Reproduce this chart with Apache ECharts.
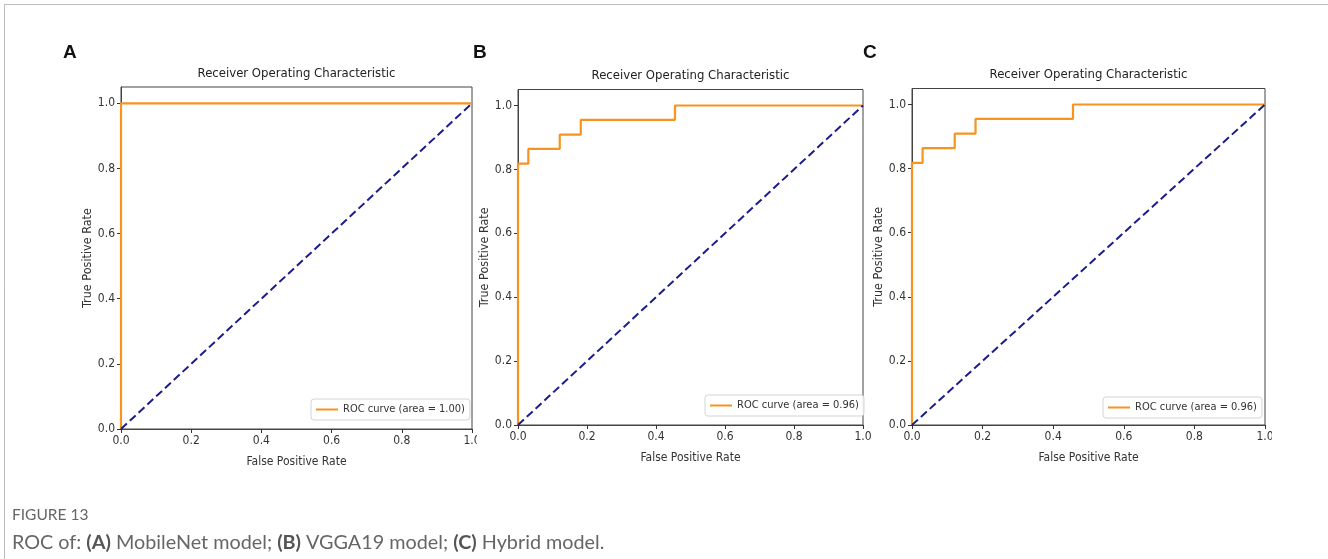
<!DOCTYPE html>
<html>
<head>
<meta charset="utf-8">
<script src="https://cdn.jsdelivr.net/npm/echarts@6/dist/echarts.min.js"></script>
<style>
html,body{margin:0;padding:0;background:#fff;}
#chart{width:1328px;height:559px;}
</style>
</head>
<body>
<div id="chart"></div>
<script>
// ---- data ----
const panelLabels = ['A', 'B', 'C'];
const chartTitle = 'Receiver Operating Characteristic';
const xName = 'False Positive Rate';
const yName = 'True Positive Rate';
const tickValues = [0, 0.2, 0.4, 0.6, 0.8, 1.0];

const rocNameA = 'ROC curve (area = 1.00)';
const fprA = [0, 0, 1];
const tprA = [0, 1, 1];

const rocNameB = 'ROC curve (area = 0.96)';
const fprB = [0, 0, 0.03, 0.03, 0.121, 0.121, 0.182, 0.182, 0.455, 0.455, 1];
const tprB = [0, 0.818, 0.818, 0.864, 0.864, 0.909, 0.909, 0.955, 0.955, 1, 1];

const rocNameC = 'ROC curve (area = 0.96)';
const fprC = [0, 0, 0.03, 0.03, 0.121, 0.121, 0.18, 0.18, 0.456, 0.456, 1];
const tprC = [0, 0.818, 0.818, 0.864, 0.864, 0.909, 0.909, 0.955, 0.955, 1, 1];

const diagX = [0, 1];
const diagY = [0, 1];

const captionHead = 'FIGURE 13';

// ---- styling / layout ----
const FONT = "'Liberation Sans Narrow', 'DejaVu Sans Condensed', 'Liberation Sans', sans-serif";
const ORANGE = '#f7931e';
const NAVY = '#1c1c8e';
const FRAME = '#444';

const grids = [
  {left: 121, top: 87, width: 351, height: 342},
  {left: 518, top: 89.5, width: 345, height: 335.5},
  {left: 912, top: 88.5, width: 353, height: 336.5}
];
const panels = [
  {name: rocNameA, fpr: fprA, tpr: tprA, legend: {left: 311, top: 399}, labelPos: [63, 43]},
  {name: rocNameB, fpr: fprB, tpr: tprB, legend: {left: 705, top: 395}, labelPos: [473, 43]},
  {name: rocNameC, fpr: fprC, tpr: tprC, legend: {left: 1103, top: 397}, labelPos: [863, 43]}
];

function zip(xs, ys) { return xs.map((x, i) => [x, ys[i]]); }

const option = {
  animation: false,
  backgroundColor: '#fff',
  title: [], grid: [], xAxis: [], yAxis: [], series: [], legend: [],
  graphic: []
};

grids.forEach((g, i) => {
  const p = panels[i];
  option.grid.push(Object.assign({show: true, borderColor: FRAME, borderWidth: 1, backgroundColor: '#fff', containLabel: false}, g));
  option.title.push({
    text: chartTitle,
    left: g.left + g.width / 2,
    top: g.top - 20,
    textAlign: 'center',
    padding: 0,
    textStyle: {fontFamily: FONT, fontSize: 13, fontWeight: 'normal', color: '#222'}
  });
  option.xAxis.push({
    type: 'value', gridIndex: i, min: 0, max: 1,
    name: xName, nameLocation: 'middle', nameGap: 27,
    nameTextStyle: {fontFamily: FONT, fontSize: 12, color: '#333'},
    axisLine: {show: true, lineStyle: {color: FRAME, width: 1}},
    axisTick: {show: true, length: 4, customValues: tickValues, lineStyle: {color: '#333'}},
    axisLabel: {customValues: tickValues, margin: 6, fontFamily: FONT, fontSize: 12, color: '#333',
      formatter: v => v.toFixed(1)},
    splitLine: {show: false}
  });
  option.yAxis.push({
    type: 'value', gridIndex: i, min: 0, max: 1.05,
    name: yName, nameLocation: 'middle', nameGap: 27,
    nameTextStyle: {fontFamily: FONT, fontSize: 12.5, color: '#333'},
    axisLine: {show: true, lineStyle: {color: FRAME, width: 1}},
    axisTick: {show: true, length: 4, customValues: tickValues, lineStyle: {color: '#333'}},
    axisLabel: {customValues: tickValues, margin: 6, fontFamily: FONT, fontSize: 12, color: '#333',
      formatter: v => v.toFixed(1)},
    splitLine: {show: false}
  });
  option.series.push({
    type: 'line', name: p.name, xAxisIndex: i, yAxisIndex: i,
    data: zip(p.fpr, p.tpr), showSymbol: false, symbol: 'none',
    lineStyle: {color: ORANGE, width: 2.2}, itemStyle: {color: ORANGE},
    z: 3
  });
  option.series.push({
    type: 'line', name: 'diag' + i, xAxisIndex: i, yAxisIndex: i,
    data: zip(diagX, diagY), showSymbol: false, symbol: 'none',
    lineStyle: {color: NAVY, width: 2, type: [8, 4]}, itemStyle: {color: NAVY},
    z: 4
  });
  option.legend.push({
    data: [p.name],
    left: p.legend.left, top: p.legend.top,
    orient: 'vertical',
    icon: 'rect', itemWidth: 22, itemHeight: 2,
    padding: [5, 5, 5, 5],
    backgroundColor: 'rgba(255,255,255,0.9)',
    borderColor: '#d4d4d4', borderWidth: 1, borderRadius: 3,
    selectedMode: false,
    textStyle: {fontFamily: FONT, fontSize: 11, color: '#333'}
  });
  option.graphic.push({
    type: 'text', left: p.labelPos[0], top: p.labelPos[1], z: 10,
    style: {text: panelLabels[i], font: "bold 19px 'Liberation Sans', Arial, sans-serif", fill: '#111'}
  });
});

// figure frame lines (top & left)
option.graphic.push({type: 'line', z: 10, shape: {x1: 4, y1: 4.5, x2: 1328, y2: 4.5}, style: {stroke: '#bdbdbd', lineWidth: 1}});
option.graphic.push({type: 'line', z: 10, shape: {x1: 4.5, y1: 4, x2: 4.5, y2: 559}, style: {stroke: '#bdbdbd', lineWidth: 1}});
// image crop of the right-most x tick labels
option.graphic.push({type: 'rect', z: 20, shape: {x: 477, y: 432, width: 18, height: 18}, style: {fill: '#fff'}});
option.graphic.push({type: 'rect', z: 20, shape: {x: 1272, y: 430, width: 56, height: 20}, style: {fill: '#fff'}});
// caption
option.graphic.push({
  type: 'text', left: 12, top: 507, z: 10,
  style: {text: captionHead, font: "15.5px Lato, 'Open Sans', sans-serif", fill: '#666'}
});
option.graphic.push({
  type: 'text', left: 12, top: 533, z: 10,
  style: {
    text: 'ROC of: {b|(A)} MobileNet model; {b|(B)} VGGA19 model; {b|(C)} Hybrid model.',
    font: "19.8px Lato, 'Open Sans', sans-serif", fill: '#666',
    rich: {b: {font: "bold 19.8px Lato, 'Open Sans', sans-serif", fill: '#555'}}
  }
});

const chart = echarts.init(document.getElementById('chart'), null, {renderer: 'canvas'});
chart.setOption(option);
</script>
</body>
</html>
